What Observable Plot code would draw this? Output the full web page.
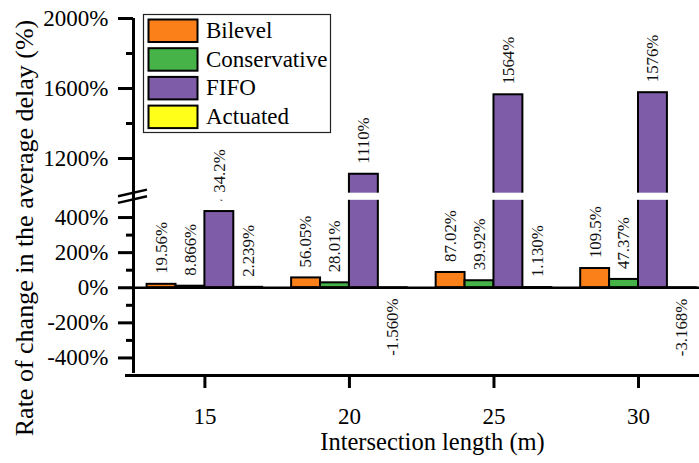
<!DOCTYPE html>
<html><head><meta charset="utf-8">
<script src="https://cdn.jsdelivr.net/npm/d3@7"></script>
<script src="https://cdn.jsdelivr.net/npm/@observablehq/plot@0.6"></script>
<style>body{margin:0;background:#fff}</style>
</head><body><div id="chart"></div>
<script>
// ---- data ----
const lengths = [15, 20, 25, 30];
const series = ["Bilevel", "Conservative", "FIFO", "Actuated"];
const colors = ["#FC8019", "#46B348", "#7F5CA7", "#FFFF19"];
const bilevel = [19.56, 56.05, 87.02, 109.5];
const conservative = [8.866, 28.01, 39.92, 47.37];
const fifo = [434.2, 1110, 1564, 1576];
const actuated = [2.239, -1.560, 1.130, -3.168];
const yMajorTicks = [-400, -200, 0, 200, 400, 1200, 1600, 2000];
const yMinorTicks = [-300, -100, 100, 300, 1400, 1800];
const xTicks = [15, 20, 25, 30];
const xTitle = "Intersection length (m)";
const yTitle = "Rate of change in the average delay (%)";

const values = [bilevel, conservative, fifo, actuated];
const rows = [];
lengths.forEach((len, i) => series.forEach((s, j) => rows.push({len, j, series: s, value: values[j][i]})));
const fmt = d3.formatLocale({decimal: ".", thousands: "", grouping: [3], currency: ["", ""], minus: "-"}).format(".4r");

const xDomain = [12.53, 32.11];
const font = "'Liberation Serif', 'Times New Roman', serif";

function decorations(index, scales) {
  const g = d3.create("svg:g");
  // axis break marks
  const x0 = scales.x(xDomain[0]);
  const yb = (scales.y(500) + scales.y(1000)) / 2;
  for (const off of [-3.3, 3.3]) {
    g.append("line").attr("x1", x0 - 15).attr("y1", yb + off + 3.3)
      .attr("x2", x0 + 14).attr("y2", yb + off - 3.3)
      .attr("stroke", "black").attr("stroke-width", 2.5);
  }
  // y title
  g.append("text").attr("transform", `translate(33,228) rotate(-90)`)
    .attr("text-anchor", "middle").attr("font-size", 26).attr("font-family", font)
    .attr("fill", "black").text(yTitle);
  // legend
  const lg = g.append("g").attr("text-anchor", "start");
  lg.append("rect").attr("x", 143.5).attr("y", 14.5).attr("width", 187).attr("height", 118)
    .attr("fill", "white").attr("stroke", "#222").attr("stroke-width", 1.2);
  series.forEach((s, j) => {
    const y = 19.5 + j * 28.7;
    lg.append("rect").attr("x", 148.5).attr("y", y).attr("width", 49).attr("height", 22.5)
      .attr("fill", colors[j]).attr("stroke", "black").attr("stroke-width", 2);
    lg.append("text").attr("x", 206).attr("y", y + 18.5).attr("font-size", 23)
      .attr("font-family", font).attr("fill", "black").text(s);
  });
  return g.node();
}

const chart = Plot.plot({
  width: 699,
  height: 463,
  marginLeft: 133,
  marginRight: 0,
  marginTop: 16,
  marginBottom: 88,
  style: {fontFamily: font, fontSize: "23px", background: "white", color: "black"},
  x: {domain: xDomain, range: [133, 699]},
  y: {type: "linear", domain: [-500, 500, 1000, 2000], range: [375, 199.5, 193, 18]},
  color: {domain: series, range: colors},
  marks: [
    Plot.rect(rows, {
      x1: d => d.len + d.j - 2, x2: d => d.len + d.j - 1,
      y1: 0, y2: "value", fill: "series", stroke: "black", strokeWidth: 2
    }),
    Plot.text(rows.filter(d => d.value >= 0), {
      x: d => d.len + d.j - 1.5, y: "value", text: d => fmt(d.value) + "%",
      rotate: -90, textAnchor: "start", lineAnchor: "middle", dy: -10.5, fontSize: 16.8, fill: "#111"
    }),
    Plot.text(rows.filter(d => d.value < 0), {
      x: d => d.len + d.j - 1.5, y: "value", text: d => fmt(d.value) + "%",
      rotate: -90, textAnchor: "end", lineAnchor: "middle", dy: 10.5, fontSize: 16.8, fill: "#111"
    }),
    // white break band
    Plot.rect([0], {x1: xDomain[0], x2: xDomain[1], y1: 500, y2: 1000, fill: "white",
      insetLeft: 2, insetTop: -0.3, insetBottom: -0.3}),
    Plot.ruleY([0], {strokeWidth: 2.6}),
    Plot.ruleY([-500], {strokeWidth: 3, insetLeft: -8}),
    Plot.ruleX([xDomain[0]], {y1: -500, y2: 2000, strokeWidth: 3, insetTop: -2}),
    Plot.axisY({ticks: yMajorTicks, tickSize: 15, tickFormat: () => "", strokeWidth: 3, label: null}),
    Plot.axisY({ticks: yMinorTicks, tickSize: 7, tickFormat: () => "", strokeWidth: 3, label: null}),
    Plot.text(yMajorTicks, {y: d => d, text: d => d + "%", frameAnchor: "left",
      textAnchor: "end", lineAnchor: "middle", dx: -25, fontSize: 23, fill: "black"}),
    Plot.axisX({ticks: xTicks, tickSize: 13, tickFormat: () => "", strokeWidth: 3, label: null}),
    Plot.text(xTicks, {x: d => d, text: d => String(d), frameAnchor: "bottom",
      textAnchor: "middle", lineAnchor: "middle", dy: 41, fontSize: 23, fill: "black"}),
    Plot.text([xTitle], {frameAnchor: "bottom", textAnchor: "middle", lineAnchor: "middle",
      dx: 16, dy: 67, fontSize: 24.5, fill: "black"}),
    decorations
  ]
});
document.getElementById("chart").appendChild(chart);
</script>
</body></html>
